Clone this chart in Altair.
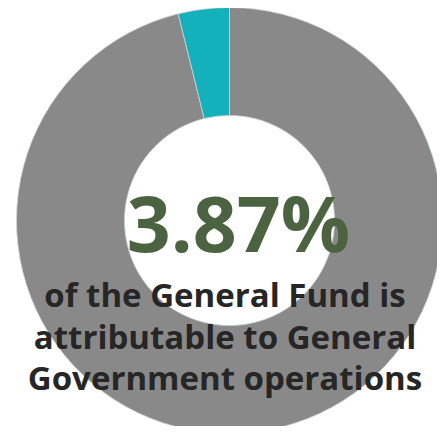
import altair as alt
import pandas as pd

categories = ["Other", "General Government"]
shares = [96.13, 3.87]
colors = ["#898989", "#14b1bd"]

headline = ["3.87%"]
sub_lines = ["of the General Fund is", "attributable to General", "Government operations"]

df = pd.DataFrame({"category": categories, "share": shares, "order": [0, 1]})

arc = alt.Chart(df).mark_arc(outerRadius=213, innerRadius=105, stroke="#cfd6d6", strokeWidth=0.8).encode(
    theta=alt.Theta("share:Q", stack=True),
    order=alt.Order("order:Q"),
    color=alt.Color("category:N", scale=alt.Scale(domain=categories, range=colors), legend=None),
    x=alt.value(221.5),
    y=alt.value(212.5),
)

big = alt.Chart(pd.DataFrame({"t": headline})).mark_text(
    font="Open Sans", fontWeight="bold", fontSize=77, color="#4b6340", align="center", baseline="alphabetic"
).encode(text="t:N", x=alt.value(230.5), y=alt.value(244))

sub_df = pd.DataFrame({"t": sub_lines, "i": [0, 1, 2]})
sub = alt.Chart(sub_df).mark_text(
    font="Open Sans", fontWeight="bold", fontSize=33, color="#262626", align="center", baseline="alphabetic"
).encode(
    text="t:N",
    x=alt.value(217),
    y=alt.Y("i:Q", axis=None, scale=alt.Scale(domain=[0, 2], range=[299, 382])),
)

chart = alt.layer(arc, big, sub).properties(
    width=429, height=418, padding=0, autosize=alt.AutoSizeParams(type="none")
).configure_view(stroke=None)

chart.save("out.html", embed_options={"renderer": "svg", "actions": False})
